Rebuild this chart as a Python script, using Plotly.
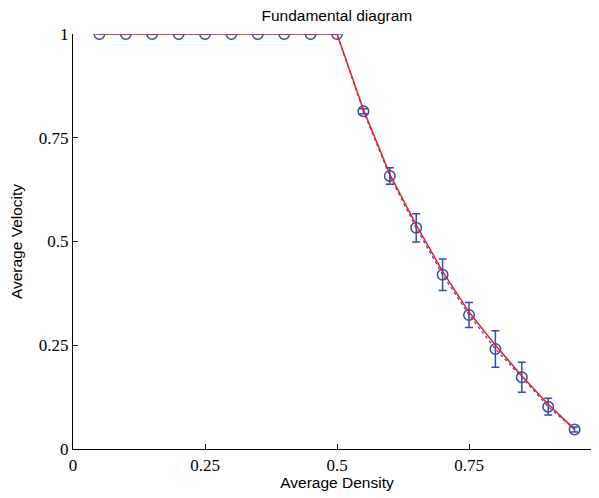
import plotly.graph_objects as go

# measured points (mean velocity per density) with error bars
density = [0.05, 0.1, 0.15, 0.2, 0.25, 0.3, 0.35, 0.4, 0.45, 0.5,
           0.55, 0.6, 0.65, 0.7, 0.75, 0.8, 0.85, 0.9, 0.95]
velocity = [1, 1, 1, 1, 1, 1, 1, 1, 1, 1,
            0.814, 0.658, 0.533, 0.420, 0.323, 0.241, 0.173, 0.102, 0.047]
err = [0, 0, 0, 0, 0, 0, 0, 0, 0, 0,
       0.006, 0.02, 0.034, 0.038, 0.03, 0.044, 0.036, 0.02, 0.006]

# red curve
curve_v = [1, 1, 1, 1, 1, 1, 1, 1, 1, 1,
           0.818, 0.662, 0.540, 0.428, 0.330, 0.250, 0.176, 0.108, 0.048]

ticks = [0, 0.25, 0.5, 0.75, 1]
tick_text = ['0', '0.25', '0.5', '0.75', '1']

blue = '#2f4fa8'

fig = go.Figure()
fig.add_trace(go.Scatter(
    x=density, y=velocity, mode='markers+lines',
    line=dict(color=blue, width=1.2, dash='dot'),
    marker=dict(symbol='circle-open', size=10.5, color=blue, line=dict(width=1.5)),
    error_y=dict(type='data', array=err, color=blue, thickness=1.5, width=4),
    showlegend=False))
fig.add_trace(go.Scatter(
    x=density, y=curve_v, mode='lines',
    line=dict(color='#ee1c24', width=1.5), showlegend=False))

tick_font = dict(family='Times New Roman', size=17, color='black')
sans = dict(family='Liberation Sans', size=15.5, color='black')
# page body has an 8px margin, so the margins are shifted by that
fig.update_layout(
    width=599, height=498,
    margin=dict(l=65, r=6, t=26, b=57),
    plot_bgcolor='white', paper_bgcolor='white',
    title=dict(text='Fundamental diagram', x=0.549, xanchor='center', y=0.985, yanchor='middle',
               font=sans),
    xaxis=dict(range=[0, 1], tickvals=ticks, ticktext=tick_text, automargin=False,
               showgrid=False, zeroline=False, showline=True, linecolor='black', linewidth=1.2,
               ticks='inside', ticklen=5, tickcolor='black', tickfont=tick_font,
               title=dict(text='Average Density', standoff=0, font=sans)),
    yaxis=dict(range=[0, 1], tickvals=ticks, ticktext=tick_text, automargin=False,
               showgrid=False, zeroline=False, showline=True, linecolor='black', linewidth=1.2,
               ticks='inside', ticklen=5, tickcolor='black', tickfont=tick_font,
               title=dict(text='Average Velocity', standoff=12, font=sans)),
)
fig.write_html("out.html")
